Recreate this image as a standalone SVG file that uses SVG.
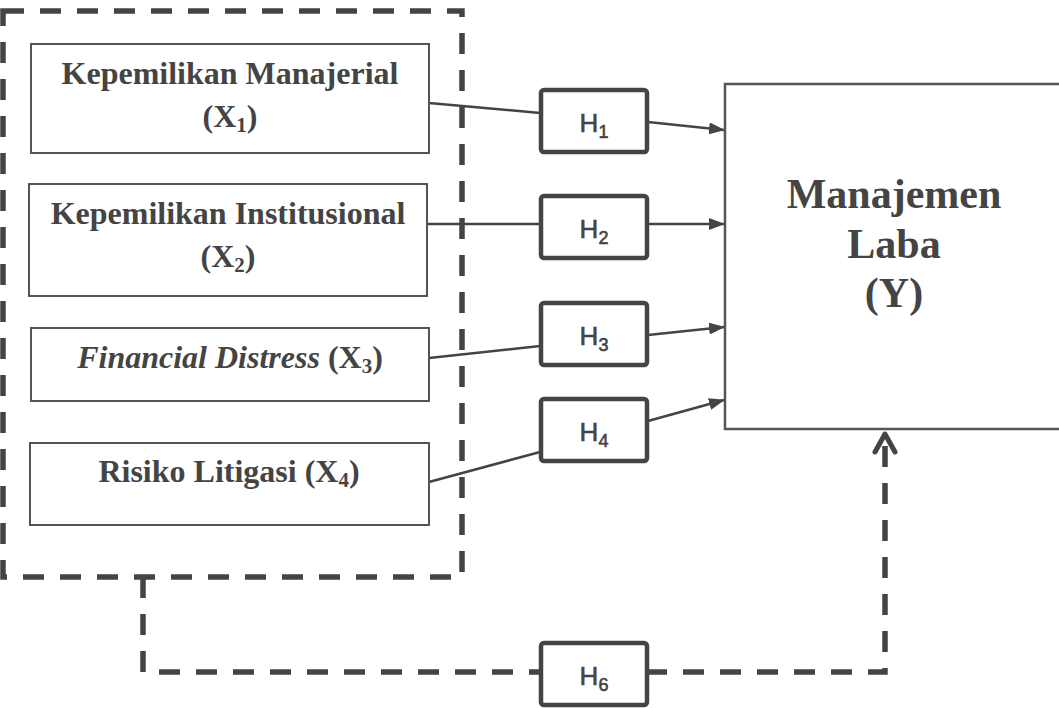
<svg xmlns="http://www.w3.org/2000/svg" width="1059" height="708" viewBox="0 0 1059 708">
<defs>
<marker id="arr" markerWidth="16" markerHeight="12" refX="15" refY="6" orient="auto" markerUnits="userSpaceOnUse">
<path d="M0,0 L16,6 L0,12 Z" fill="#444"/>
</marker>
<style>
.var{fill:#fff;stroke:#555;stroke-width:2}
.vt{font-family:"Liberation Serif","Times New Roman",serif;font-weight:bold;font-size:32px;fill:#444;text-anchor:middle}
.sub{font-size:21px}
.hb{fill:#fff;stroke:#444;stroke-width:4.5}
.ht{font-family:"Liberation Sans",Arial,sans-serif;font-size:26px;fill:#444;stroke:#444;stroke-width:0.6;text-anchor:middle}
.hs{font-size:18px}
.ln{stroke:#444;stroke-width:2.5;fill:none}
.dash{stroke:#444;stroke-width:5.5;fill:none;stroke-dasharray:21 16}
.yt{font-family:"Liberation Serif","Times New Roman",serif;font-weight:bold;font-size:42px;fill:#444;text-anchor:middle}
</style>
</defs>
<rect width="1059" height="708" fill="#fff"/>

<g id="group-box">
<rect x="3" y="11" width="459" height="566" class="dash"/>
</g>

<g id="connectors">
<path class="ln" d="M429,103 L540,113"/>
<path class="ln" d="M648,122 L724,130" marker-end="url(#arr)"/>
<path class="ln" d="M427,224 L540,224"/>
<path class="ln" d="M648,224 L724,224" marker-end="url(#arr)"/>
<path class="ln" d="M429,358 L540,346"/>
<path class="ln" d="M648,335 L724,327" marker-end="url(#arr)"/>
<path class="ln" d="M429,482 L540,452"/>
<path class="ln" d="M648,421 L724,400" marker-end="url(#arr)"/>
<path class="dash" d="M143,577 V672 H541"/>
<path class="dash" d="M646,672 H885 V440"/>
<path d="M875,452 L885,434 L895,452" stroke="#444" stroke-width="5" fill="none" stroke-linejoin="round" stroke-linecap="round"/>
</g>

<g id="x1">
<rect x="31" y="44" width="398" height="109" class="var"/>
<text class="vt" x="230" y="84">Kepemilikan Manajerial</text>
<text class="vt" x="230" y="127">(X<tspan class="sub" dy="5">1</tspan><tspan dy="-5">)</tspan></text>
</g>
<g id="x2">
<rect x="29" y="184" width="398" height="112" class="var"/>
<text class="vt" x="228" y="224">Kepemilikan Institusional</text>
<text class="vt" x="228" y="267">(X<tspan class="sub" dy="5">2</tspan><tspan dy="-5">)</tspan></text>
</g>
<g id="x3">
<rect x="31" y="328" width="398" height="73" class="var"/>
<text class="vt" x="230" y="368"><tspan font-style="italic">Financial Distress</tspan> (X<tspan class="sub" dy="5">3</tspan><tspan dy="-5">)</tspan></text>
</g>
<g id="x4">
<rect x="30" y="443" width="399" height="82" class="var"/>
<text class="vt" x="229" y="482">Risiko Litigasi (X<tspan class="sub" dy="5">4</tspan><tspan dy="-5">)</tspan></text>
</g>

<g id="h1">
<rect x="541" y="90" width="106" height="62" rx="3" class="hb"/>
<text class="ht" x="594" y="132">H<tspan class="hs" dy="6">1</tspan></text>
</g>
<g id="h2">
<rect x="541" y="196" width="106" height="62" rx="3" class="hb"/>
<text class="ht" x="594" y="238">H<tspan class="hs" dy="6">2</tspan></text>
</g>
<g id="h3">
<rect x="541" y="303" width="106" height="62" rx="3" class="hb"/>
<text class="ht" x="594" y="345">H<tspan class="hs" dy="6">3</tspan></text>
</g>
<g id="h4">
<rect x="541" y="399" width="106" height="62" rx="3" class="hb"/>
<text class="ht" x="594" y="441">H<tspan class="hs" dy="6">4</tspan></text>
</g>
<g id="h6">
<rect x="541" y="643" width="106" height="62" rx="3" class="hb"/>
<text class="ht" x="594" y="685">H<tspan class="hs" dy="6">6</tspan></text>
</g>

<g id="y">
<rect x="725" y="84" width="340" height="345" fill="#fff" stroke="#555" stroke-width="2.5"/>
<text class="yt" x="894" y="208">Manajemen</text>
<text class="yt" x="894" y="258">Laba</text>
<text class="yt" x="894" y="307">(Y)</text>
</g>
</svg>
